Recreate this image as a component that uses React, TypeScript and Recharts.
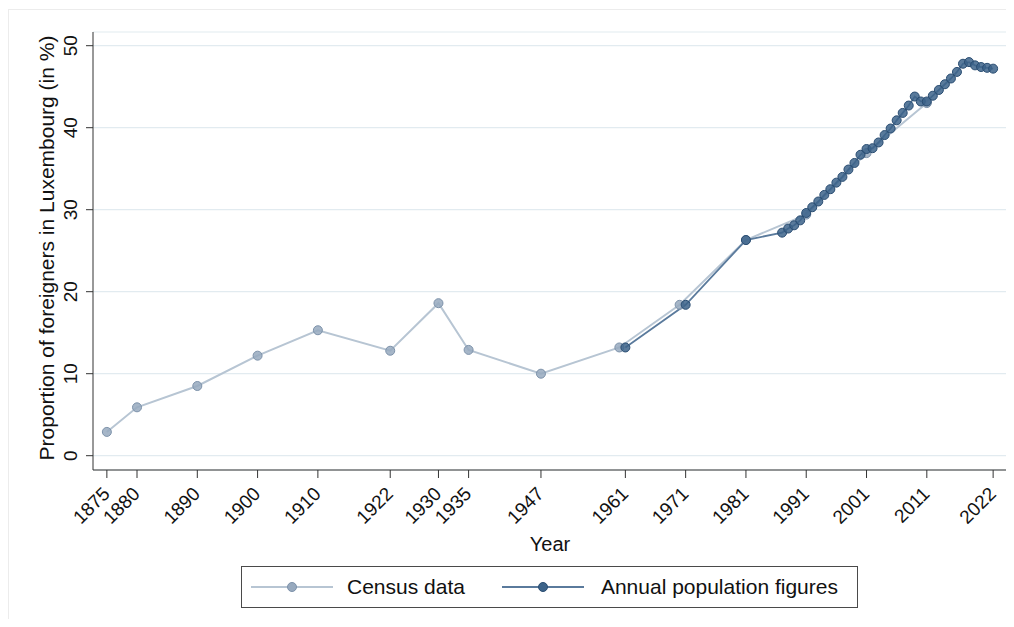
import React from "react";
import {
  LineChart,
  Line,
  XAxis,
  YAxis,
  CartesianGrid,
  Legend,
} from "recharts";

const FONT = '"Liberation Sans", Arial, sans-serif';

const censusYears = [1875, 1880, 1890, 1900, 1910, 1922, 1930, 1935, 1947, 1960, 1970, 1981, 1991, 2001, 2011];
const censusValues = [2.9, 5.9, 8.5, 12.2, 15.3, 12.8, 18.6, 12.9, 10.0, 13.2, 18.4, 26.3, 29.4, 36.9, 43.0];

const annualYears = [
  1961, 1971, 1981, 1987, 1988, 1989, 1990, 1991, 1992, 1993, 1994, 1995, 1996, 1997, 1998, 1999, 2000,
  2001, 2002, 2003, 2004, 2005, 2006, 2007, 2008, 2009, 2010, 2011, 2012, 2013, 2014, 2015, 2016, 2017,
  2018, 2019, 2020, 2021, 2022,
];
const annualValues = [
  13.2, 18.4, 26.3, 27.2, 27.7, 28.1, 28.7, 29.6, 30.3, 31.0, 31.8, 32.5, 33.3, 34.0, 34.9, 35.7, 36.7,
  37.4, 37.5, 38.2, 39.1, 39.9, 40.9, 41.8, 42.7, 43.8, 43.2, 43.2, 43.9, 44.6, 45.3, 46.0, 46.8, 47.8,
  48.0, 47.6, 47.4, 47.3, 47.2,
];

const xTicks = [1875, 1880, 1890, 1900, 1910, 1922, 1930, 1935, 1947, 1961, 1971, 1981, 1991, 2001, 2011, 2022];
const yTicks = [0, 10, 20, 30, 40, 50];

const censusData = censusYears.map((year, i) => ({ year, value: censusValues[i] }));
const annualData = annualYears.map((year, i) => ({ year, value: annualValues[i] }));

const CENSUS_LINE = "#b7c5d3";
const CENSUS_DOT = "#97a9be";
const CENSUS_DOT_EDGE = "#7d92aa";
const ANNUAL_LINE = "#5a7a9c";
const ANNUAL_DOT = "#3c6389";
const ANNUAL_DOT_EDGE = "#2a4d72";

function XTick({ x, y, payload }: any) {
  const ax = x + 4;
  const ay = y + 15;
  return (
    <text
      x={ax}
      y={ay}
      transform={`rotate(-45 ${ax} ${ay})`}
      textAnchor="end"
      fontSize={19}
      fontFamily={FONT}
      fill="#111"
    >
      {payload.value}
    </text>
  );
}

function YTick({ x, y, payload }: any) {
  const ax = x - 7;
  return (
    <text
      x={ax}
      y={y}
      transform={`rotate(-90 ${ax} ${y})`}
      textAnchor="middle"
      fontSize={19}
      fontFamily={FONT}
      fill="#111"
    >
      {payload.value}
    </text>
  );
}

function Symbol({ line, dot, edge }: { line: string; dot: string; edge: string }) {
  return (
    <svg width={82} height={12} style={{ display: "block" }}>
      <line x1={0} y1={6} x2={82} y2={6} stroke={line} strokeWidth={2} />
      <circle cx={41} cy={6} r={4.5} fill={dot} stroke={edge} strokeWidth={1} />
    </svg>
  );
}

function LegendBox() {
  return (
    <div
      style={{
        boxSizing: "border-box",
        width: 617,
        height: 42,
        border: "1px solid #4a4a4a",
        display: "flex",
        alignItems: "center",
        fontFamily: FONT,
        fontSize: 21,
        color: "#111",
        background: "#fff",
      }}
    >
      <div style={{ marginLeft: 9 }}>
        <Symbol line={CENSUS_LINE} dot={CENSUS_DOT} edge={CENSUS_DOT_EDGE} />
      </div>
      <span style={{ marginLeft: 14 }}>Census data</span>
      <div style={{ marginLeft: 37 }}>
        <Symbol line={ANNUAL_LINE} dot={ANNUAL_DOT} edge={ANNUAL_DOT_EDGE} />
      </div>
      <span style={{ marginLeft: 17 }}>Annual population figures</span>
    </div>
  );
}

export default function App() {
  return (
    <div style={{ margin: -8, width: 1014, height: 627, position: "relative", background: "#fff" }}>
      <div
        style={{
          position: "absolute",
          left: 8,
          top: 9,
          right: 0,
          bottom: 0,
          borderTop: "1px solid #ececec",
          borderLeft: "1px solid #ececec",
        }}
      />
      <div style={{ position: "absolute", left: 0, top: 0 }}>
        <LineChart
          width={1014}
          height={627}
          margin={{ top: 32, right: 7, left: 0, bottom: 77 }}
        >
          <CartesianGrid horizontal vertical={false} stroke="#e2ebf0" strokeWidth={1.2} />
          <XAxis
            dataKey="year"
            type="number"
            domain={[1872.7, 2024.3]}
            ticks={xTicks}
            allowDataOverflow
            height={80}
            tickSize={8}
            tickMargin={2}
            stroke="#333"
            tick={<XTick />}
            interval={0}
            label={{
              content: () => (
                <text x={550} y={551} textAnchor="middle" fontSize={20} fontFamily={FONT} fill="#111">
                  Year
                </text>
              ),
            }}
          />
          <YAxis
            type="number"
            domain={[-1.744, 51.67]}
            ticks={yTicks}
            allowDataOverflow
            width={93}
            tickSize={7}
            tickMargin={2}
            stroke="#333"
            tick={<YTick />}
            interval={0}
            label={{
              content: () => (
                <text
                  x={54}
                  y={248}
                  transform="rotate(-90 54 248)"
                  textAnchor="middle"
                  fontSize={21}
                  fontFamily={FONT}
                  fill="#111"
                >
                  Proportion of foreigners in Luxembourg (in %)
                </text>
              ),
            }}
          />
          <Legend
            verticalAlign="middle"
            align="center"
            layout="horizontal"
            wrapperStyle={{ left: 241, top: 566, width: 617 }}
            content={() => <LegendBox />}
          />
          <Line
            data={censusData}
            dataKey="value"
            name="Census data"
            stroke={CENSUS_LINE}
            strokeWidth={2}
            dot={{ r: 4.5, fill: CENSUS_DOT, stroke: CENSUS_DOT_EDGE, strokeWidth: 1, fillOpacity: 0.85 }}
            activeDot={false}
            isAnimationActive={false}
          />
          <Line
            data={annualData}
            dataKey="value"
            name="Annual population figures"
            stroke={ANNUAL_LINE}
            strokeWidth={1.8}
            dot={{ r: 4.5, fill: ANNUAL_DOT, stroke: ANNUAL_DOT_EDGE, strokeWidth: 1, fillOpacity: 0.85 }}
            activeDot={false}
            isAnimationActive={false}
          />
        </LineChart>
      </div>
    </div>
  );
}
